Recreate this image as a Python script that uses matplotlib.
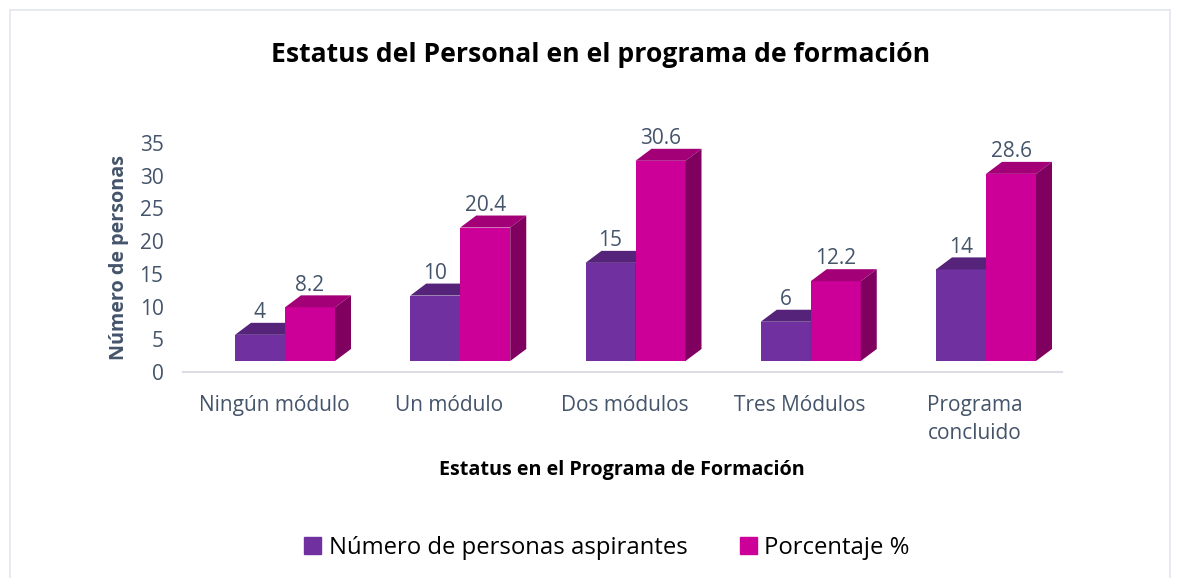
import matplotlib
matplotlib.use("Agg")
import matplotlib.pyplot as plt
from matplotlib.patches import Patch, Polygon, Rectangle

plt.rcParams["font.family"] = ["Open Sans", "DejaVu Sans"]

categorias = ["Ningún módulo", "Un módulo", "Dos módulos", "Tres Módulos", "Programa\nconcluido"]
personas = [4, 10, 15, 6, 14]
porcentaje = [8.2, 20.4, 30.6, 12.2, 28.6]
etiquetas_personas = ["4", "10", "15", "6", "14"]
etiquetas_porcentaje = ["8.2", "20.4", "30.6", "12.2", "28.6"]
ticks_y = [0, 5, 10, 15, 20, 25, 30, 35]

W, H = 1186, 578
TXT = "#44546A"
MORADO, MORADO_TOP = "#7030A0", "#56237A"
ROSA, ROSA_TOP, ROSA_LADO = "#CC0099", "#A30078", "#7F005F"
FS = 15

fig = plt.figure(figsize=(W / 100, H / 100), dpi=100, facecolor="white")
# marco del grafico (se corta abajo)
fig.add_artist(Rectangle((10 / W, -0.05), 1160 / W, 1.05 - 10 / H, transform=fig.transFigure,
                         fill=False, ec="#E3E6EE", lw=1.2))

ax = fig.add_axes([183 / W, 1 - 372 / H, (1062 - 183) / W, (372 - 143) / H])
PX_X = 175.25          # px por categoria
PX_Y = (372 - 143) / 35  # px por unidad
ax.set_xlim((183 - 285) / PX_X, (1062 - 285) / PX_X)
ax.set_ylim(0, 35)

ancho = 50 / PX_X
piso = 11 / PX_Y       # las barras 3D flotan sobre el eje
dx, dy = 16 / PX_X, 12 / PX_Y


def barra_3d(x0, valor, frente, arriba, lado):
    """cara frontal + tapa + lateral de una barra"""
    x1 = x0 + ancho
    y0, y1 = piso, piso + valor
    ax.bar(x0, valor, ancho, bottom=piso, align="edge", color=frente, zorder=3, clip_on=False)
    ax.add_patch(Polygon([(x0, y1), (x0 + dx, y1 + dy), (x1 + dx, y1 + dy), (x1, y1)],
                         color=arriba, lw=0, zorder=3, clip_on=False))
    ax.add_patch(Polygon([(x1, y0), (x1 + dx, y0 + dy), (x1 + dx, y1 + dy), (x1, y1)],
                         color=lado, lw=0, zorder=3, clip_on=False))


for i in range(len(categorias)):
    barra_3d(i - ancho, personas[i], MORADO, MORADO_TOP, MORADO_TOP)
    barra_3d(i, porcentaje[i], ROSA, ROSA_TOP, ROSA_LADO)
    ax.annotate(etiquetas_personas[i], (i - ancho / 2, piso + personas[i]), xytext=(0, 16),
                textcoords="offset points", ha="center", va="center", fontsize=FS, color=TXT, zorder=5)
    ax.annotate(etiquetas_porcentaje[i], (i + ancho / 2, piso + porcentaje[i]), xytext=(0, 16),
                textcoords="offset points", ha="center", va="center", fontsize=FS, color=TXT, zorder=5)

for lado in ["top", "left", "right"]:
    ax.spines[lado].set_visible(False)
ax.spines["bottom"].set_color("#DDDDE6")
ax.spines["bottom"].set_linewidth(1.5)
ax.set_yticks(ticks_y)
ax.set_xticks([i - 11 / PX_X for i in range(len(categorias))])
ax.set_xticklabels(categorias, linespacing=1.42)
ax.tick_params(axis="y", length=0, pad=14, labelsize=FS, labelcolor=TXT)
ax.tick_params(axis="x", length=0, pad=16.5, labelsize=FS, labelcolor=TXT)

fig.text(601 / W, 1 - 55 / H, "Estatus del Personal en el programa de formación",
         ha="center", va="center", fontsize=19.1, fontweight="bold", color="black")
fig.text(119 / W, 1 - 257 / H, "Número de personas", rotation=90,
         ha="center", va="center", fontsize=14.2, fontweight="bold", color=TXT)
fig.text(622 / W, 1 - 470 / H, "Estatus en el Programa de Formación",
         ha="center", va="center", fontsize=14.2, fontweight="bold", color="black")

handles = [Patch(color=MORADO, label="Número de personas aspirantes"),
           Patch(color=ROSA, label="Porcentaje %")]
fig.legend(handles=handles, loc="center", bbox_to_anchor=(607 / W, 1 - 548 / H), ncol=2, frameon=False,
           fontsize=17.2, handlelength=0.72, handleheight=0.72, handletextpad=0.3, columnspacing=2.2)

fig.savefig("out.png", dpi=100)
